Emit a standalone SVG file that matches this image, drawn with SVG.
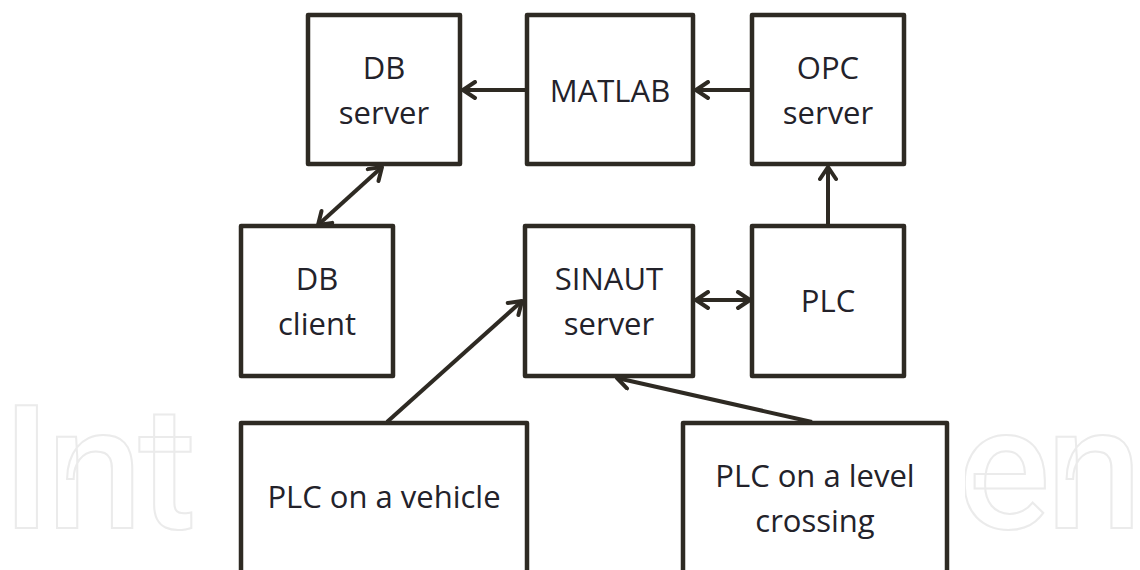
<svg xmlns="http://www.w3.org/2000/svg" width="1140" height="570" viewBox="0 0 1140 570">
<style>
.box{fill:#fff;stroke:#2e2a23;stroke-width:4.5;stroke-linejoin:round}
.lbl{font-family:"Open Sans","Noto Sans",sans-serif;font-size:31px;fill:#23222a;text-anchor:middle}
.wm{font-family:Roboto,"Open Sans",sans-serif;font-weight:500;font-size:172px;fill:none;stroke:#ebebeb;stroke-width:2}
.con{stroke:#2e2a23;stroke-width:4;fill:none}
</style>
<defs>
<marker id="ah" markerUnits="userSpaceOnUse" viewBox="0 0 20 20" markerWidth="20" markerHeight="20" refX="16" refY="10" orient="auto-start-reverse">
<path d="M4,2 L16,10 L4,18" fill="none" stroke="#2e2a23" stroke-width="4" stroke-linecap="round" stroke-linejoin="round"/>
</marker>
</defs>
<rect width="1140" height="570" fill="#fff"/>
<g id="watermark">
<text class="wm" x="2" y="528" letter-spacing="-4">Int</text>
<text class="wm" x="958" y="528" letter-spacing="-4">en</text>
<rect x="195" y="0" width="770" height="570" fill="#fff"/>
</g>
<g id="connectors">
<path class="con" d="M527,90 L463,90" marker-end="url(#ah)"/>
<path class="con" d="M752,90 L696,90" marker-end="url(#ah)"/>
<path class="con" d="M828,226 L828,167" marker-end="url(#ah)"/>
<path class="con" d="M382,167 L318,225" marker-start="url(#ah)" marker-end="url(#ah)"/>
<path class="con" d="M696,300 L750,300" marker-start="url(#ah)" marker-end="url(#ah)"/>
<path class="con" d="M387,422 L522,301" marker-end="url(#ah)"/>
<path class="con" d="M812,422 L617,378" marker-end="url(#ah)"/>
</g>
<g id="db-server"><rect class="box" x="308" y="15" width="152" height="149"/><text class="lbl" x="384" y="79">DB</text><text class="lbl" x="384" y="124">server</text></g>
<g id="matlab"><rect class="box" x="527" y="15" width="166" height="149"/><text class="lbl" x="610" y="102">MATLAB</text></g>
<g id="opc-server"><rect class="box" x="752" y="15" width="152" height="149"/><text class="lbl" x="828" y="79">OPC</text><text class="lbl" x="828" y="124">server</text></g>
<g id="db-client"><rect class="box" x="241" y="226" width="152" height="150"/><text class="lbl" x="317" y="290">DB</text><text class="lbl" x="317" y="335">client</text></g>
<g id="sinaut-server"><rect class="box" x="525" y="226" width="168" height="150"/><text class="lbl" x="609" y="290">SINAUT</text><text class="lbl" x="609" y="335">server</text></g>
<g id="plc"><rect class="box" x="752" y="226" width="152" height="150"/><text class="lbl" x="828" y="312">PLC</text></g>
<g id="plc-vehicle"><rect class="box" x="241" y="423" width="286" height="160"/><text class="lbl" x="384" y="508">PLC on a vehicle</text></g>
<g id="plc-crossing"><rect class="box" x="683" y="423" width="264" height="160"/><text class="lbl" x="815" y="487">PLC on a level</text><text class="lbl" x="815" y="532">crossing</text></g>
</svg>
